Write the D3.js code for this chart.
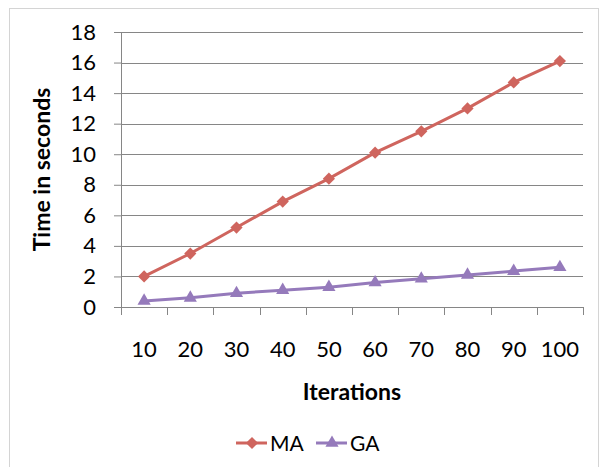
<!DOCTYPE html>
<html>
<head>
<meta charset="utf-8">
<script src="https://cdn.jsdelivr.net/npm/d3@7"></script>
<style>
  body { margin: 0; background: #fff; }
  text { font-family: Lato, "Open Sans", sans-serif; fill: #000; }
</style>
</head>
<body>
<div id="chart"></div>
<script>
// chart data
var iterations = [10, 20, 30, 40, 50, 60, 70, 80, 90, 100];
var maTimes = [2.0, 3.5, 5.2, 6.9, 8.4, 10.1, 11.5, 13.0, 14.7, 16.1];
var gaTimes = [0.4, 0.6, 0.9, 1.1, 1.3, 1.6, 1.85, 2.1, 2.35, 2.6];
var yTicks = [0, 2, 4, 6, 8, 10, 12, 14, 16, 18];
var seriesNames = ["MA", "GA"];

var W = 600, H = 467;
var margin = { top: 32, right: 17, bottom: 160, left: 121 };
var width = W - margin.left - margin.right;
var height = H - margin.top - margin.bottom;

var colors = { MA: "#cf655e", GA: "#957abb" };
var axisColor = "#868686";

var svg = d3.select("#chart").append("svg")
    .attr("width", W)
    .attr("height", H);

// outer chart frame
svg.append("rect")
    .attr("x", 9.5).attr("y", 8.5)
    .attr("width", 589).attr("height", 470)
    .attr("fill", "none")
    .attr("stroke", "#d4d4d4");

var g = svg.append("g")
    .attr("transform", "translate(" + margin.left + "," + margin.top + ")");

var x = d3.scaleBand()
    .domain(iterations)
    .range([0, width]);

var y = d3.scaleLinear()
    .domain([0, 18])
    .range([height, 0]);

// gridlines
g.append("g")
    .selectAll("line")
    .data(yTicks.slice(1))
    .enter().append("line")
    .attr("x1", 0).attr("x2", width)
    .attr("y1", function (d) { return Math.round(y(d)) + 0.5; })
    .attr("y2", function (d) { return Math.round(y(d)) + 0.5; })
    .attr("stroke", axisColor)
    .attr("stroke-width", 1);

// y axis
var yAxis = g.append("g")
    .call(d3.axisLeft(y).tickValues(yTicks).tickSize(7).tickPadding(18));
yAxis.select(".domain").attr("stroke", axisColor);
yAxis.selectAll(".tick line").attr("stroke", axisColor);
yAxis.selectAll(".tick text")
    .style("font-size", "22px")
    .style("font-family", "Lato, sans-serif");

// x axis: ticks on category boundaries
var xAxis = g.append("g")
    .attr("transform", "translate(0," + height + ")");
xAxis.append("line")
    .attr("x1", 0).attr("x2", width)
    .attr("y1", 0.5).attr("y2", 0.5)
    .attr("stroke", axisColor);
var bounds = iterations.map(function (d) { return x(d); }).concat([width]);
xAxis.selectAll(".xt")
    .data(bounds)
    .enter().append("line")
    .attr("x1", function (d) { return Math.round(d) + 0.5; })
    .attr("x2", function (d) { return Math.round(d) + 0.5; })
    .attr("y1", 0).attr("y2", 8)
    .attr("stroke", axisColor);
xAxis.selectAll(".xl")
    .data(iterations)
    .enter().append("text")
    .attr("x", function (d) { return x(d) + x.bandwidth() / 2; })
    .attr("y", 50)
    .attr("text-anchor", "middle")
    .style("font-size", "22px")
    .text(function (d) { return d; });

// axis titles
g.append("text")
    .attr("transform", "translate(-71," + (height / 2) + ") rotate(-90)")
    .attr("text-anchor", "middle")
    .style("font-size", "23px")
    .style("font-weight", "bold")
    .text("Time in seconds");

g.append("text")
    .attr("x", width / 2)
    .attr("y", height + 93)
    .attr("text-anchor", "middle")
    .style("font-size", "23px")
    .style("font-weight", "bold")
    .text("Iterations");

var line = d3.line()
    .x(function (d, i) { return x(iterations[i]) + x.bandwidth() / 2; })
    .y(function (d) { return y(d); });

var diamond = d3.symbol().type(d3.symbolDiamond2).size(95);
var triangle = d3.symbol().type(d3.symbolTriangle).size(75);

function drawSeries(values, color, sym) {
    g.append("path")
        .datum(values)
        .attr("fill", "none")
        .attr("stroke", color)
        .attr("stroke-width", 3)
        .attr("d", line);
    g.selectAll(null)
        .data(values)
        .enter().append("path")
        .attr("transform", function (d, i) {
            return "translate(" + (x(iterations[i]) + x.bandwidth() / 2) + "," + y(d) + ")";
        })
        .attr("d", sym)
        .attr("fill", color);
}

drawSeries(maTimes, colors.MA, diamond);
drawSeries(gaTimes, colors.GA, triangle);

// legend
var legend = svg.append("g").attr("transform", "translate(236,443)");
var legendItems = [
    { name: seriesNames[0], color: colors.MA, sym: diamond, x: 0 },
    { name: seriesNames[1], color: colors.GA, sym: triangle, x: 80 }
];
var li = legend.selectAll("g")
    .data(legendItems)
    .enter().append("g")
    .attr("transform", function (d) { return "translate(" + d.x + ",0)"; });
li.append("line")
    .attr("x1", 0).attr("x2", 31)
    .attr("stroke", function (d) { return d.color; })
    .attr("stroke-width", 3);
li.append("path")
    .attr("transform", "translate(16,0)")
    .attr("d", function (d) { return d.sym(); })
    .attr("fill", function (d) { return d.color; });
li.append("text")
    .attr("x", 34)
    .attr("y", 8)
    .style("font-size", "21px")
    .text(function (d) { return d.name; });
</script>
</body>
</html>
